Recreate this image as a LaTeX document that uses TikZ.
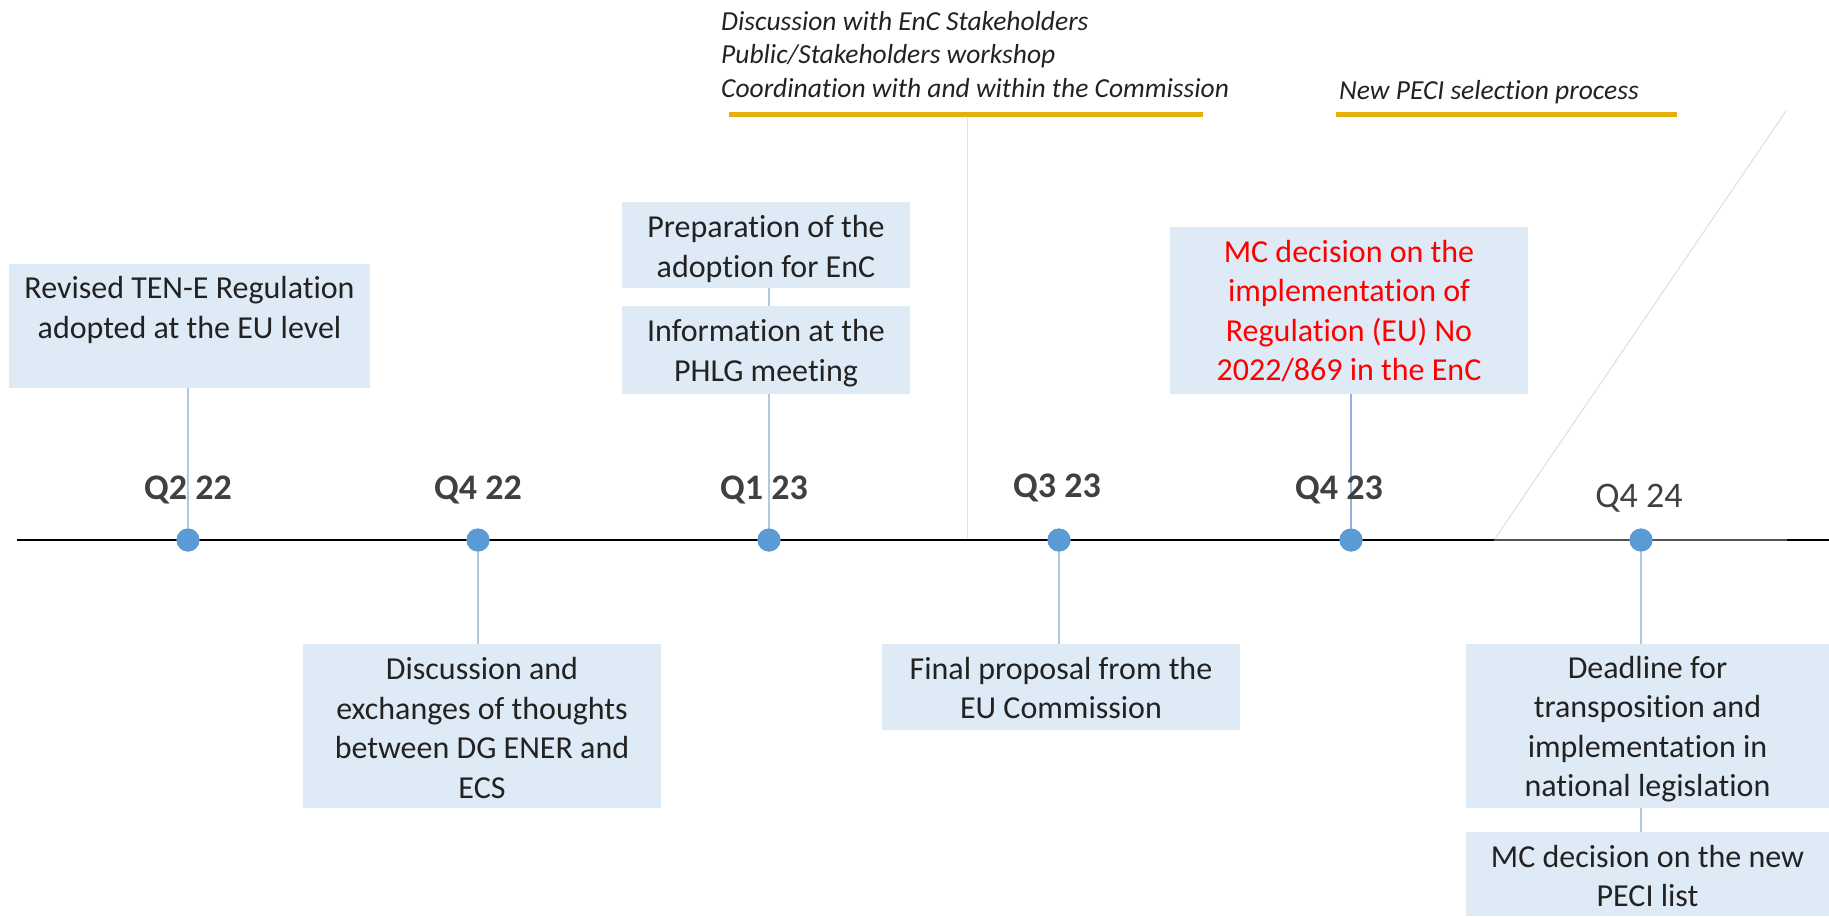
\documentclass[tikz,border=0pt]{standalone}
\usepackage{fontspec}
\setmainfont[Ligatures={NoCommon}]{Carlito}
\definecolor{boxblue}{HTML}{DEEAF6}
\definecolor{dotblue}{HTML}{5B9BD5}
\definecolor{connc}{HTML}{B4C7DC}
\definecolor{connq}{HTML}{8DB3E2}
\definecolor{qgray}{HTML}{404040}
\definecolor{textdark}{HTML}{222222}
\definecolor{gold}{HTML}{E6B00A}
\definecolor{faint}{HTML}{E2E2E2}
\definecolor{faintpink}{HTML}{E8DADA}
\newcommand{\bxfont}{\fontsize{32}{39.5}\selectfont}
\newcommand{\qbfont}{\fontsize{36}{40}\selectfont\bfseries}
\newcommand{\qrfont}{\fontsize{36}{40}\selectfont}
\newcommand{\itfont}{\fontsize{27.5}{33.5}\selectfont\itshape}
\begin{document}
\begin{tikzpicture}[x=1pt,y=-1pt,
  box/.style={fill=boxblue, inner sep=0pt},
  btxt/.style={inner sep=0pt, align=center, font=\bxfont, text=textdark},
  tdot/.style={circle, fill=dotblue, minimum size=23pt, inner sep=0pt},
  qlab/.style={font=\qbfont, text=qgray, inner sep=0pt},
  qlabr/.style={font=\qrfont, text=qgray, inner sep=0pt},
  conn/.style={draw=connc, line width=1.3pt},
  goldline/.style={draw=gold, line width=5pt},
  note/.style={font=\itfont, text=textdark, align=left, inner sep=0pt, anchor=west}]
\useasboundingbox (0,0) rectangle (1829,916);

% faint guide lines
\coordinate (vtop) at (967,114);
\coordinate (vbot) at (967,540);
\draw[faint, line width=1pt] (vtop) -- (vbot);
\coordinate (dA) at (1494,540);
\coordinate (dB) at (1786,111);
\draw[faintpink, line width=1pt] (dA) -- (dB);

% timeline
\coordinate (t0) at (17,540);
\coordinate (t1) at (1494,540);
\coordinate (t2) at (1787,540);
\coordinate (t3) at (1829,540);
\draw[black, line width=2.4pt] (t0) -- (t1);
\draw[qgray!90, line width=2.4pt] (t1) -- (t2);
\draw[black, line width=2.4pt] (t2) -- (t3);

% boxes
\node[box, minimum width=361pt, minimum height=124pt] (b1) at (189.5,326) {};
\node[box, minimum width=358pt, minimum height=164pt] (b2) at (482,726) {};
\node[box, minimum width=288pt, minimum height=86pt] (b3a) at (766,245) {};
\node[box, minimum width=288pt, minimum height=88pt] (b3b) at (766,350) {};
\node[box, minimum width=358pt, minimum height=86pt] (b4) at (1061,687) {};
\node[box, minimum width=358pt, minimum height=167pt] (b5) at (1349,310) {};
\node[box, minimum width=363pt, minimum height=164pt] (b6) at (1647.5,726) {};
\node[box, minimum width=363pt, minimum height=84pt] (b7) at (1647.5,874) {};

\node[btxt] (b1t) at ([yshift=-2pt]b1.center |- 0,308) {Revised TEN-E Regulation\\adopted at the EU level};
\node[btxt] (b2t) at ([yshift=-2pt]b2.center) {Discussion and\\exchanges of thoughts\\between DG ENER and\\ECS};
\node[btxt] (b3at) at ([yshift=-4pt]b3a.center) {Preparation of the\\adoption for EnC};
\node[btxt] (b3bt) at ([yshift=-3pt]b3b.center) {Information at the\\PHLG meeting};
\node[btxt] (b4t) at ([yshift=-1pt]b4.center) {Final proposal from the\\EU Commission};
\node[btxt, text=red] (b5t) at ([yshift=-1pt]b5.center) {MC decision on the\\implementation of\\Regulation (EU) No\\2022/869 in the EnC};
\node[btxt] (b6t) at ([yshift=-3pt]b6.center) {Deadline for\\transposition and\\implementation in\\national legislation};
\node[btxt] (b7t) at ([yshift=-2pt]b7.center) {MC decision on the new\\PECI list};

% dots
\node[tdot] (d1) at (188,540) {};
\node[tdot] (d2) at (478,540) {};
\node[tdot] (d3) at (769,540) {};
\node[tdot] (d4) at (1059,540) {};
\node[tdot] (d5) at (1351,540) {};
\node[tdot] (d6) at (1641,540) {};

% connectors
\draw[conn] (d1.center) -- (d1 |- b1.south);
\draw[conn] (d2.center) -- (d2 |- b2.north);
\draw[conn] (d3.center) -- (d3 |- b3b.south);
\draw[conn] (d3 |- b3b.north) -- (d3 |- b3a.south);
\draw[conn] (d4.center) -- (d4 |- b4.north);
\draw[draw=connq, line width=1.3pt] (d5.center) -- (d5 |- b5.south);
\draw[conn] (d6.center) -- (d6 |- b6.north);
\draw[conn] (d6 |- b6.south) -- (d6 |- b7.north);
\foreach \d in {d1,d2,d3,d4,d5,d6} \node[tdot] at (\d) {};

% quarter labels
\node[qlab] (q1) at (188,490) {Q2 22};
\node[qlab] (q2) at (478,490) {Q4 22};
\node[qlab] (q3) at (764,490) {Q1 23};
\node[qlab] (q4) at (1057,488) {Q3 23};
\node[qlab] (q5) at (1339,490) {Q4 23};
\node[qlabr] (q6) at (1639,498) {Q4 24};

% top notes
\node[note] (n1) at (721,54.5) {Discussion with EnC Stakeholders\\Public/Stakeholders workshop\\Coordination with and within the Commission};
\node[note] (n2) at (1339,92) {New PECI selection process};
\coordinate (g1a) at (729,114);
\coordinate (g1b) at (1203,114);
\coordinate (g2a) at (1336,114);
\coordinate (g2b) at (1677,114);
\draw[goldline] (g1a) -- (g1b);
\draw[goldline] (g2a) -- (g2b);
\end{tikzpicture}
\end{document}
